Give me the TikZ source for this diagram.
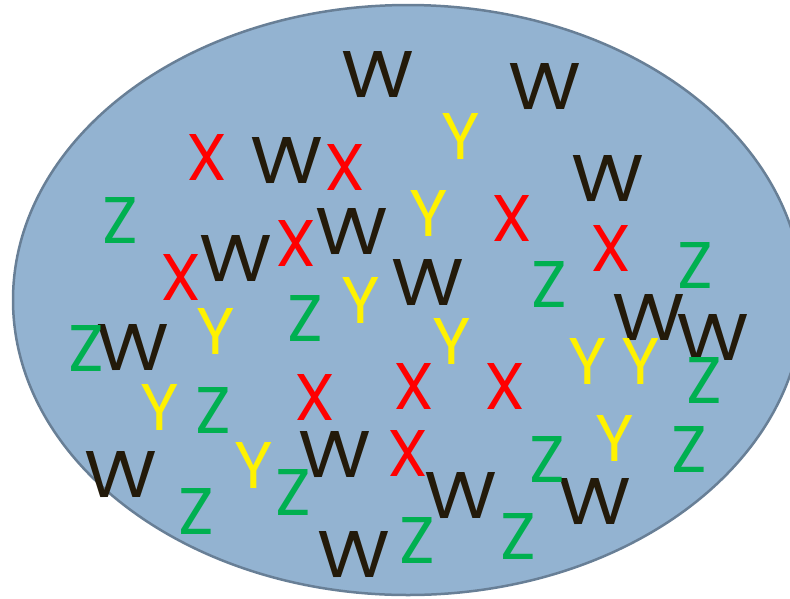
\documentclass[tikz,border=0pt]{standalone}
\usepackage{fontspec}
\setmainfont{Poppins}
\usepackage{tikz}
\definecolor{setfill}{HTML}{93B3D1}
\definecolor{setline}{HTML}{687F96}
\definecolor{wcol}{HTML}{231A0A}
\definecolor{zcol}{HTML}{00B050}
\tikzstyle{letter}=[inner sep=0pt,font=\fontsize{66}{66}\selectfont]
\tikzstyle{wl}=[letter,text=wcol,xscale=1.13]
\tikzstyle{xl}=[letter,text=red]
\tikzstyle{yl}=[letter,text=yellow]
\tikzstyle{zl}=[letter,text=zcol]

\begin{document}
\begin{tikzpicture}[x=1pt,y=-1pt]
				\useasboundingbox (0,0) rectangle (790,598);
				% the set
				\draw[setline,fill=setfill,line width=2.5pt] (408,300) ellipse [x radius=395pt, y radius=295pt];

				% then the letters
				\foreach \pos/\name in {{(378,75)/w1}, {(545,87)/w2}, {(287,161)/w3}, {(608,179)/w4},
										{(352,232)/w5}, {(236,259)/w6}, {(428,283)/w7}, {(649,318)/w8},
										{(713,338)/w9}, {(133,348)/w10}, {(335,455)/w11}, {(121,475)/w12},
										{(461,496)/w13}, {(595,502)/w14}, {(354,555)/w15}}
				\node[wl] (\name) at \pos {W};

				\foreach \pos/\name in {{(207,157)/x1}, {(345,167)/x2}, {(512,218)/x3}, {(296,243)/x4},
										{(611,248)/x5}, {(181,277)/x6}, {(315,397)/x7}, {(414,386)/x8},
										{(505,386)/x9}, {(408,453)/x10}}
				\node[xl] (\name) at \pos {X};

				\foreach \pos/\name in {{(461,136)/y1}, {(429,213)/y2}, {(361,300)/y3}, {(216,331)/y4},
										{(452,341)/y5}, {(588,361)/y6}, {(641,361)/y7}, {(160,407)/y8},
										{(254,465)/y9}, {(615,438)/y10}}
				\node[yl] (\name) at \pos {Y};

				\foreach \pos/\name in {{(120,220)/z1}, {(695,265)/z2}, {(305,318)/z3}, {(86,348)/z4},
										{(213,410)/z5}, {(704,380)/z6}, {(547,459)/z7}, {(689,449)/z8},
										{(293,492)/z9}, {(196,511)/z10}, {(417,540)/z11}, {(518,536)/z12},
										{(549,284)/z13}}
				\node[zl] (\name) at \pos {Z};
			\end{tikzpicture}
\end{document}
